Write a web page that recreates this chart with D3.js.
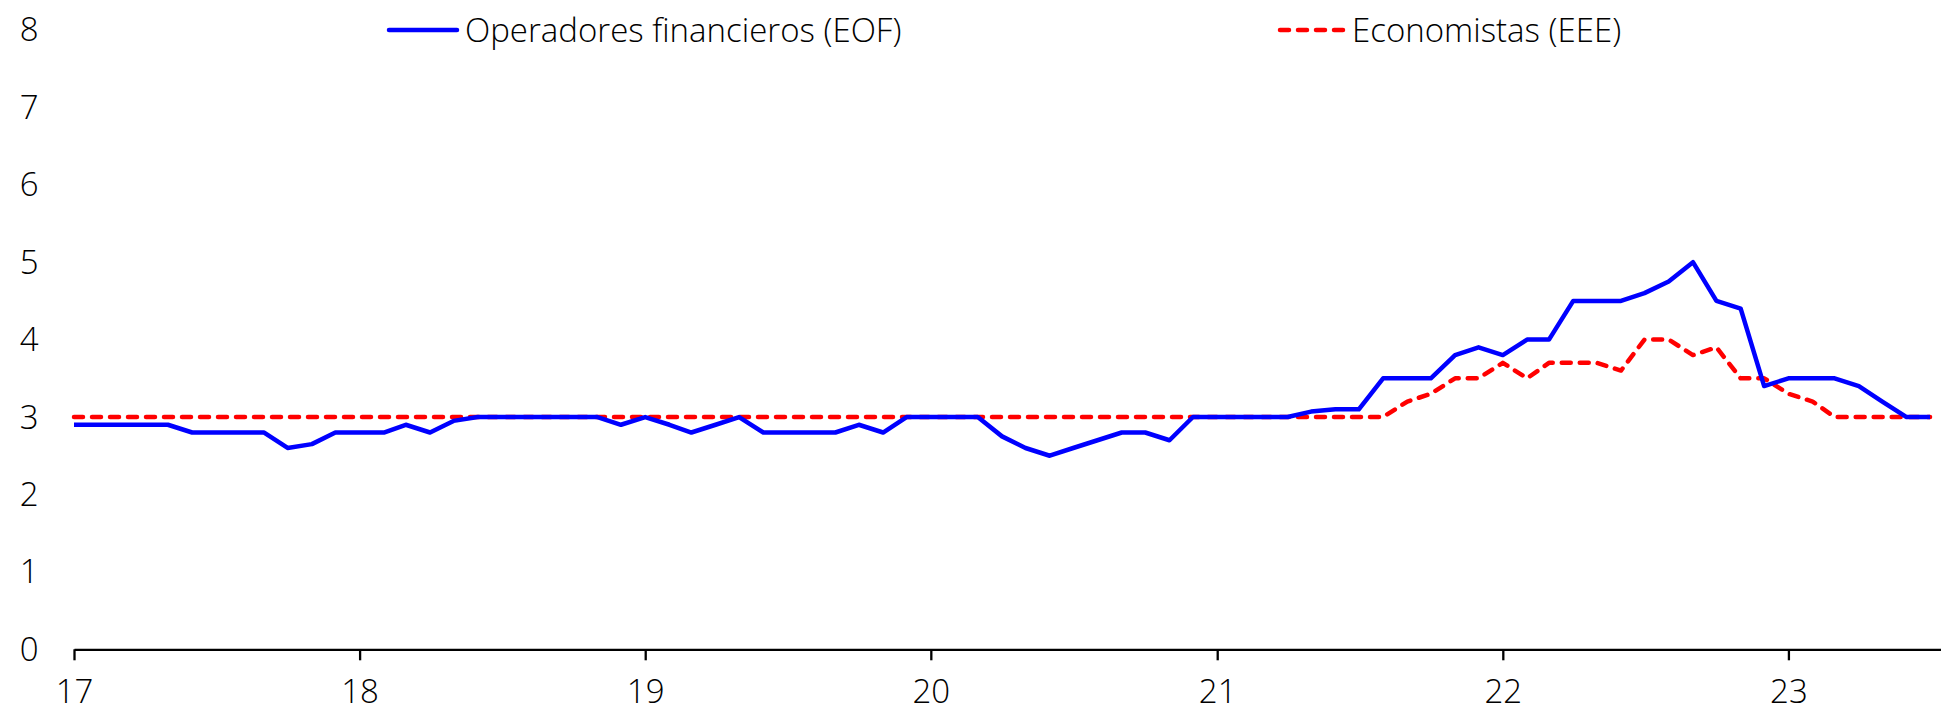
<!DOCTYPE html>
<html>
<head>
<meta charset="utf-8">
<script src="https://cdn.jsdelivr.net/npm/d3@7"></script>
<style>
  html, body { margin: 0; padding: 0; background: #fff; }
  svg { display: block; }
  text { font-family: "Open Sans", "Noto Sans", sans-serif; font-weight: 300; fill: #000; }
</style>
</head>
<body>
<svg id="chart" width="1941" height="713"></svg>
<script>
// ---- Data ----
const months = d3.timeMonths(new Date(2017, 0, 1), new Date(2023, 7, 1)); // Jan 2017 .. Jul 2023
const seriesNames = ["Operadores financieros (EOF)", "Economistas (EEE)"];
const eof = [
  2.9, 2.9, 2.9, 2.9, 2.9, 2.8, 2.8, 2.8, 2.8, 2.6, 2.65, 2.8,   // 2017
  2.8, 2.8, 2.9, 2.8, 2.95, 3.0, 3.0, 3.0, 3.0, 3.0, 3.0, 2.9,   // 2018
  3.0, 2.9, 2.8, 2.9, 3.0, 2.8, 2.8, 2.8, 2.8, 2.9, 2.8, 3.0,    // 2019
  3.0, 3.0, 3.0, 2.75, 2.6, 2.5, 2.6, 2.7, 2.8, 2.8, 2.7, 3.0,   // 2020
  3.0, 3.0, 3.0, 3.0, 3.07, 3.1, 3.1, 3.5, 3.5, 3.5, 3.8, 3.9,   // 2021
  3.8, 4.0, 4.0, 4.5, 4.5, 4.5, 4.6, 4.75, 5.0, 4.5, 4.4, 3.4,   // 2022
  3.5, 3.5, 3.5, 3.4, 3.2, 3.0, 3.0                               // 2023
];
const eee = [
  3.0, 3.0, 3.0, 3.0, 3.0, 3.0, 3.0, 3.0, 3.0, 3.0, 3.0, 3.0,    // 2017
  3.0, 3.0, 3.0, 3.0, 3.0, 3.0, 3.0, 3.0, 3.0, 3.0, 3.0, 3.0,    // 2018
  3.0, 3.0, 3.0, 3.0, 3.0, 3.0, 3.0, 3.0, 3.0, 3.0, 3.0, 3.0,    // 2019
  3.0, 3.0, 3.0, 3.0, 3.0, 3.0, 3.0, 3.0, 3.0, 3.0, 3.0, 3.0,    // 2020
  3.0, 3.0, 3.0, 3.0, 3.0, 3.0, 3.0, 3.0, 3.2, 3.3, 3.5, 3.5,    // 2021
  3.7, 3.5, 3.7, 3.7, 3.7, 3.6, 4.0, 4.0, 3.8, 3.9, 3.5, 3.5,    // 2022
  3.3, 3.2, 3.0, 3.0, 3.0, 3.0, 3.0                               // 2023
];
const yTicks = [0, 1, 2, 3, 4, 5, 6, 7, 8];

// ---- Layout ----
const svg = d3.select("#chart");
const x = d3.scaleTime()
  .domain([new Date(2017, 0, 1), new Date(2023, 6, 15)])
  .range([74, 1941]);
const y = d3.scaleLinear().domain([0, 8]).range([649.3, 29.9]);

const FONT = 33;

// Y labels (no axis line, no ticks)
svg.append("g").selectAll("text")
  .data(yTicks).join("text")
  .attr("x", 38.5)
  .attr("y", d => y(d))
  .attr("dy", "0.35em")
  .attr("text-anchor", "end")
  .attr("font-size", FONT)
  .text(d => d);

// X axis
const xAxis = d3.axisBottom(x)
  .ticks(d3.timeYear.every(1))
  .tickFormat(d3.timeFormat("%y"))
  .tickSizeInner(11)
  .tickSizeOuter(0)
  .tickPadding(19);
const gx = svg.append("g")
  .attr("transform", `translate(0,${y(0)})`)
  .call(xAxis);
gx.select(".domain").attr("stroke", "#000").attr("stroke-width", 2.3);
gx.selectAll(".tick line").attr("stroke", "#000").attr("stroke-width", 2.3);
gx.selectAll(".tick text")
  .attr("font-size", FONT)
  .attr("font-family", null)
  .attr("fill", "#000");

// Lines
const line = d3.line()
  .x((d, i) => x(months[i]))
  .y(d => y(d));

svg.append("path")
  .datum(eee)
  .attr("fill", "none")
  .attr("stroke", "#ff0000")
  .attr("stroke-width", 4.5)
  .attr("stroke-dasharray", "9 9")
  .attr("stroke-linecap", "round")
  .attr("stroke-linejoin", "round")
  .attr("d", line);

svg.append("path")
  .datum(eof)
  .attr("fill", "none")
  .attr("stroke", "#0000ff")
  .attr("stroke-width", 4.5)
  .attr("stroke-linejoin", "round")
  .attr("d", line);

// Legend
const legend = [
  { name: seriesNames[0], color: "#0000ff", dash: null, x0: 389, x1: 457 },
  { name: seriesNames[1], color: "#ff0000", dash: "9 9", x0: 1280, x1: 1344 }
];
const lg = svg.append("g");
legend.forEach(l => {
  lg.append("line")
    .attr("x1", l.x0).attr("x2", l.x1)
    .attr("y1", 30).attr("y2", 30)
    .attr("stroke", l.color)
    .attr("stroke-width", 4.5)
    .attr("stroke-linecap", "round")
    .attr("stroke-dasharray", l.dash);
  lg.append("text")
    .attr("x", l.x1 + 8)
    .attr("y", 30)
    .attr("dy", "0.35em")
    .attr("font-size", FONT)
    .text(l.name);
});
</script>
</body>
</html>
